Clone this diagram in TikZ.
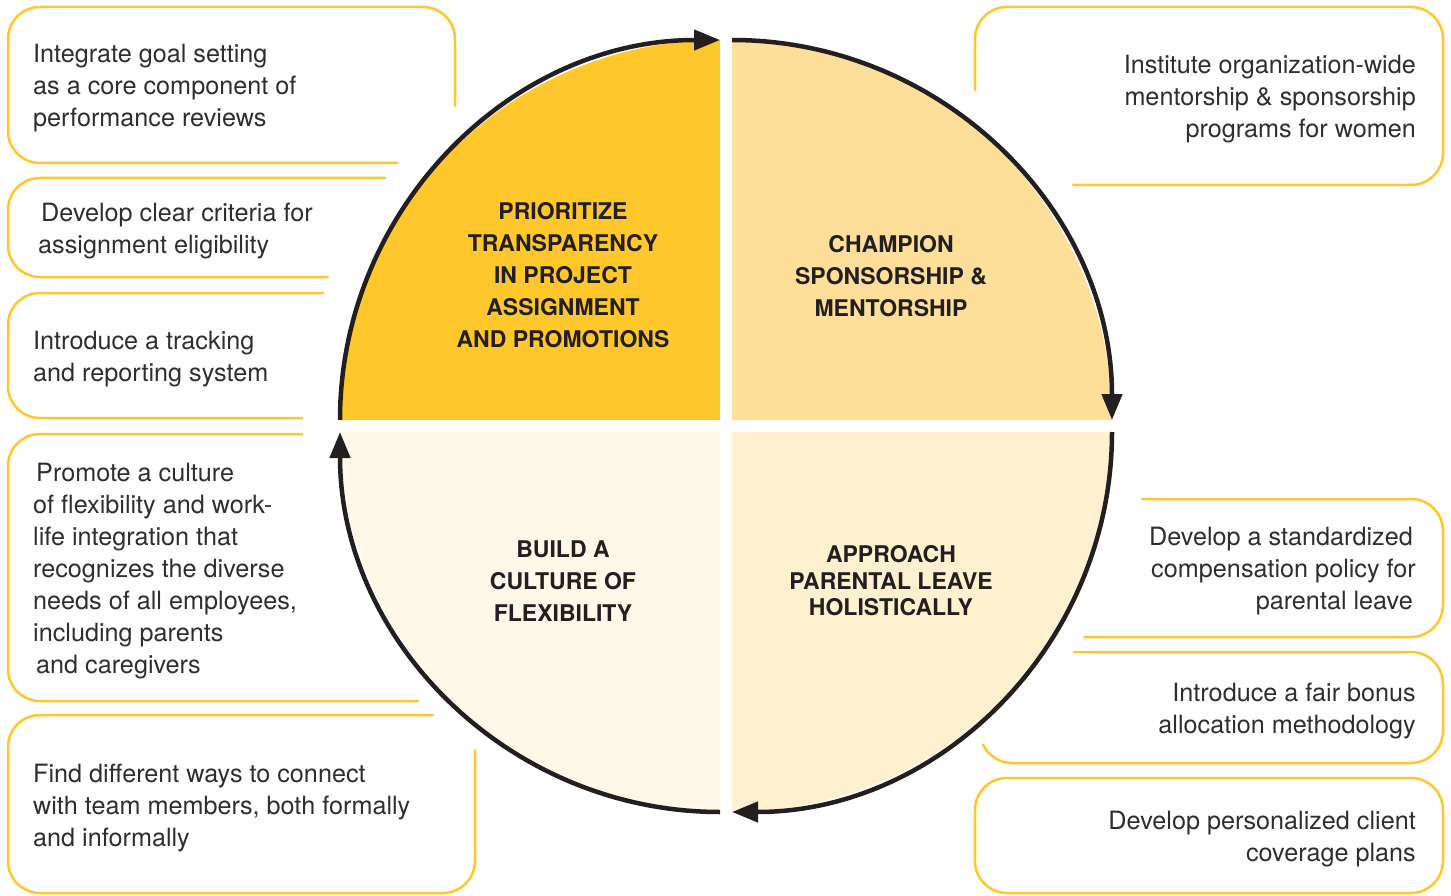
\documentclass[tikz,border=0pt]{standalone}
\usepackage{fontspec}
\setmainfont{TeX Gyre Heros}
\usepackage{xcolor}
\usepackage{tikz}
\usetikzlibrary{arrows.meta}
\definecolor{gold}{HTML}{FEC72C}
\definecolor{peach}{HTML}{FEDF9A}
\definecolor{cream}{HTML}{FFF1D0}
\definecolor{ivory}{HTML}{FEF8E8}
\definecolor{ink}{HTML}{231F20}
\definecolor{body}{HTML}{2E2E2E}
\tikzset{
  ring/.style={draw=ink, line width=4.5pt, -{Triangle[length=26pt,width=20pt]}},
  frame/.style={draw=gold, line width=2.5pt, rounded corners=32pt, line cap=round},
  item/.style={text=body, font=\fontsize{25.2}{32}\selectfont, inner sep=0pt},
  head/.style={text=ink, font=\fontsize{23}{32}\selectfont\bfseries, align=center, inner sep=0pt},
}

\begin{document}
\begin{tikzpicture}[x=1pt,y=-1pt]
  \useasboundingbox (0,0) rectangle (1451,896);
  \def\r{380}
  % quadrant corners
  \coordinate (O1) at (720,420);
  \coordinate (O2) at (732,420);
  \coordinate (O3) at (732,432);
  \coordinate (O4) at (720,432);
  \coordinate (a1) at (340,420);
  \coordinate (a2) at (732,40);
  \coordinate (a3) at (1112,432);
  \coordinate (a4) at (720,812);
  \fill[gold]  (O1) -- (a1) arc[start angle=180,end angle=270,radius=\r] -- cycle;
  \fill[peach] (O2) -- (a2) arc[start angle=270,end angle=360,radius=\r] -- cycle;
  \fill[cream] (O3) -- (a3) arc[start angle=0,end angle=90,radius=\r] -- cycle;
  \fill[ivory] (O4) -- (a4) arc[start angle=90,end angle=180,radius=\r] -- cycle;
  \draw[ring] (a1) arc[start angle=180,end angle=270,radius=\r];
  \draw[ring] (a2) arc[start angle=270,end angle=360,radius=\r];
  \draw[ring] (a3) arc[start angle=0,end angle=90,radius=\r];
  \draw[ring] (a4) arc[start angle=90,end angle=180,radius=\r];

  \node[head] (transp) at (563,275) {PRIORITIZE\\TRANSPARENCY\\IN PROJECT\\ASSIGNMENT\\AND PROMOTIONS};
  \node[head] (champ) at (891,276) {CHAMPION\\SPONSORSHIP \&\\MENTORSHIP};
  \node[head] (build) at (563,581) {BUILD A\\CULTURE OF\\FLEXIBILITY};
  \node[head,font=\fontsize{23}{26.5}\selectfont\bfseries] (parent) at (891,581) {APPROACH\\PARENTAL LEAVE\\HOLISTICALLY};

  % left boxes
  \draw[frame] (397,163) -- (8,163) -- (8,7) -- (455,7) -- (455,106);
  \draw[frame] (385,178) -- (8,178) -- (8,277) -- (328,277);
  \draw[frame] (323,293) -- (8,293) -- (8,418) -- (302,418);
  \draw[frame] (302,434) -- (8,434) -- (8,701) -- (418,701);
  \draw[frame] (433,715) -- (8,715) -- (8,893) -- (475,893) -- (475,750);
  \node[item,anchor=west,align=left] (goal) at (33,88) {Integrate goal setting\\as a core component of\\performance reviews};
  \node[item,anchor=west,align=left] (criteria) at (38,231) {\hspace*{3pt}Develop clear criteria for\\assignment eligibility};
  \node[item,anchor=west,align=left] (tracking) at (33,359) {Introduce a tracking\\and reporting system};
  \node[item,anchor=west,align=left] (flex) at (33,571) {\hspace*{3pt}Promote a culture\\of flexibility and work-\\life integration that\\recognizes the diverse\\needs of all employees,\\including parents\\\hspace*{3pt}and caregivers};
  \node[item,anchor=west,align=left] (connect) at (33,808) {Find different ways to connect\\with team members, both formally\\and informally};

  % right boxes
  \draw[frame] (975,90) -- (975,7) -- (1443,7) -- (1443,185) -- (1073,185);
  \draw[frame] (1142,499) -- (1443,499) -- (1443,637) -- (1084,637);
  \draw[frame] (1074,652) -- (1443,652) -- (1443,763) -- (1012,763);
  \draw[frame,rounded corners=0pt] (1012,763) arc[start angle=90,end angle=155,radius=32];
  \draw[frame] (975,778) rectangle (1443,893);
  \node[item,anchor=east,align=right] (mentor) at (1416,99) {Institute organization-wide\\mentorship \& sponsorship\\programs for women};
  \node[item,anchor=east,align=right] (comp) at (1416,571) {Develop a standardized\hspace*{3pt}\\compensation policy for\\parental leave\hspace*{3pt}};
  \node[item,anchor=east,align=right] (bonus) at (1416,711) {Introduce a fair bonus\\allocation methodology};
  \node[item,anchor=east,align=right] (client) at (1416,839) {Develop personalized client\\coverage plans};
\end{tikzpicture}
\end{document}
